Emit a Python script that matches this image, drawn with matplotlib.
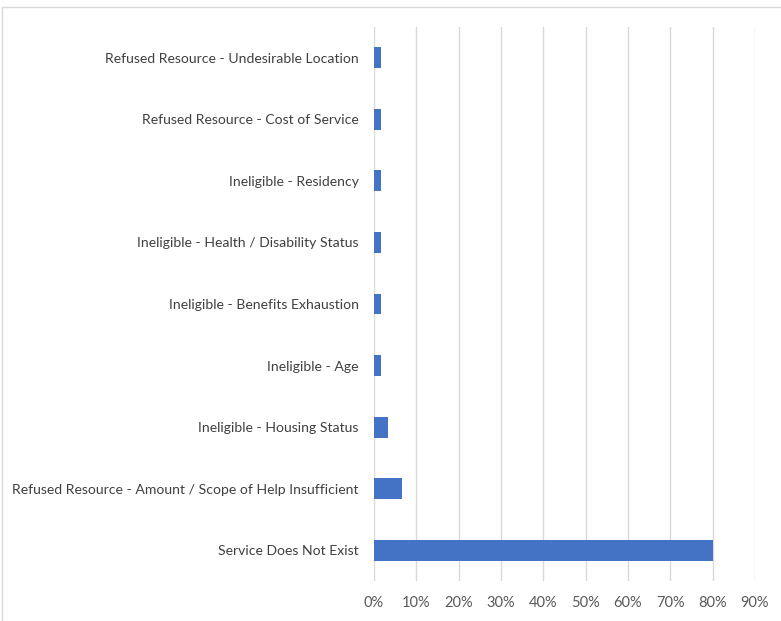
import matplotlib.pyplot as plt
from matplotlib.patches import Rectangle
from matplotlib.ticker import PercentFormatter

categories = [
    "Service Does Not Exist",
    "Refused Resource - Amount / Scope of Help Insufficient",
    "Ineligible - Housing Status",
    "Ineligible - Age",
    "Ineligible - Benefits Exhaustion",
    "Ineligible - Health / Disability Status",
    "Ineligible - Residency",
    "Refused Resource - Cost of Service",
    "Refused Resource - Undesirable Location",
]
values = [0.80, 0.067, 0.033, 0.017, 0.017, 0.017, 0.017, 0.017, 0.017]
xticks = [0, 0.1, 0.2, 0.3, 0.4, 0.5, 0.6, 0.7, 0.8, 0.9]

plt.rcParams["font.family"] = ["Lato", "DejaVu Sans"]

fig = plt.figure(figsize=(7.81, 6.21), dpi=100)
ax = fig.add_axes([374 / 781, 1 - 581 / 621, 381 / 781, 554 / 621])

ax.barh(range(len(categories)), values, height=0.34, color="#4472C4",
        zorder=3)
ax.set_yticks(range(len(categories)))
ax.set_yticklabels(categories)
ax.set_xticks(xticks)
ax.xaxis.set_major_formatter(PercentFormatter(1.0, decimals=0))
ax.set_xlim(0, 0.9)
ax.set_ylim(-0.5, len(categories) - 0.5)

ax.grid(axis="x", color="#d9d9d9", linewidth=1, zorder=0)
for s in ax.spines.values():
    s.set_visible(False)
ax.tick_params(axis="x", length=0, labelsize=10.5, labelcolor="#595959",
               pad=11)
ax.tick_params(axis="y", length=0, labelsize=10.1, labelcolor="#404040",
               pad=11)

# outer chart border
fig.patches.append(Rectangle((2 / 781, -0.1), 1.2, 1 - 7 / 621 + 0.1,
                             transform=fig.transFigure, fill=False,
                             edgecolor="#d9d9d9", linewidth=1))

fig.savefig("out.png", dpi=100)
